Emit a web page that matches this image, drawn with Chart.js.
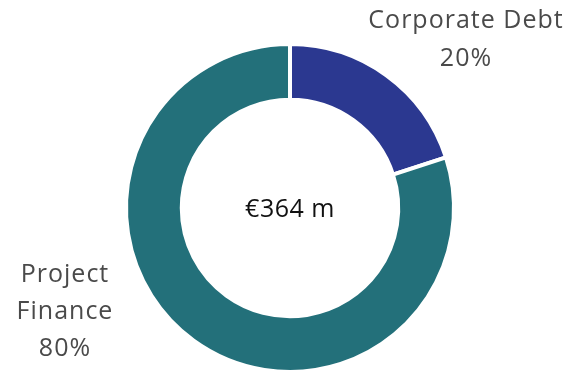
<!DOCTYPE html>
<html>
<head>
<meta charset="utf-8">
<script src="https://cdn.jsdelivr.net/npm/chart.js@4.4.0/dist/chart.umd.min.js"></script>
<style>
  html, body { margin: 0; padding: 0; background: #fff; }
  #wrap { width: 569px; height: 370px; overflow: hidden; position: relative; }
</style>
</head>
<body>
<div id="wrap"><canvas id="fundingChart" width="569" height="420"></canvas></div>
<script>
var categories = ['Corporate Debt', 'Project Finance'];
var shares = [20, 80];
var sliceColors = ['#2B3890', '#23707A'];
var totalLabel = '€364 m';

var labelFont = '400 25px "Open Sans", "Noto Sans", sans-serif';
var labelColor = '#4a4a4a';

// slice captions + total in the hole
var captions = {
  id: 'captions',
  afterDraw: function(chart) {
    var ctx = chart.ctx;
    var arcs = chart.getDatasetMeta(0).data;
    var cx = arcs[0].x, cy = arcs[0].y;
    ctx.save();
    ctx.textAlign = 'center';
    ctx.textBaseline = 'middle';

    ctx.fillStyle = '#111';
    ctx.font = '400 25px "Open Sans", "Noto Sans", sans-serif';
    ctx.letterSpacing = '0.5px';
    ctx.fillText(totalLabel, cx, cy + 2);

    ctx.fillStyle = labelColor;
    ctx.font = labelFont;
    ctx.letterSpacing = '1px';
    ctx.fillText(categories[0], 466, 21);
    ctx.fillText(shares[0] + '%', 466, 59);

    var words = categories[1].split(' ');
    ctx.fillText(words[0], 65, 275);
    ctx.fillText(words[1], 65, 312);
    ctx.fillText(shares[1] + '%', 65, 349);
    ctx.restore();
  }
};

var fundingChart = new Chart(document.getElementById('fundingChart'), {
  type: 'doughnut',
  data: {
    labels: categories,
    datasets: [{
      data: shares,
      backgroundColor: sliceColors,
      borderColor: '#ffffff',
      borderWidth: 4,
      hoverOffset: 0
    }]
  },
  options: {
    responsive: false,
    animation: false,
    cutout: '66%',
    layout: { padding: { left: 124, right: 113, top: 42, bottom: 46 } },
    plugins: {
      legend: { display: false },
      tooltip: { enabled: false }
    }
  },
  plugins: [captions]
});
</script>
</body>
</html>
